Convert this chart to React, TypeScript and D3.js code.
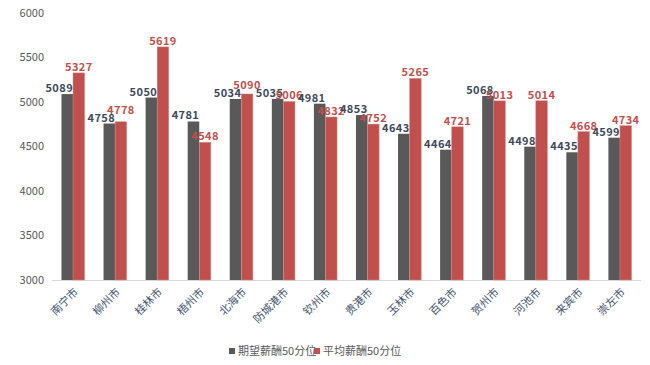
import * as d3 from "d3"

const cities = ["南宁市", "柳州市", "桂林市", "梧州市", "北海市", "防城港市", "钦州市", "贵港市", "玉林市", "百色市", "贺州市", "河池市", "来宾市", "崇左市"]
const expected = [5089, 4758, 5050, 4781, 5034, 5035, 4981, 4853, 4643, 4464, 5068, 4498, 4435, 4599]
const average = [5327, 4778, 5619, 4548, 5090, 5006, 4832, 4752, 5265, 4721, 5013, 5014, 4668, 4734]
const yTicks = [3000, 3500, 4000, 4500, 5000, 5500, 6000]
const seriesNames = ["期望薪酬50分位", "平均薪酬50分位"]

const W = 650
const H = 365
const GRAY = "#595959"
const RED = "#c0504d"
const FONT = "'Noto Sans CJK SC', 'Open Sans', sans-serif"

export default function App() {
  const x = d3.scaleBand<string>().domain(cities).range([52, 641]).paddingInner(0.45).paddingOuter(0.225)
  const y = d3.scaleLinear().domain([3000, 6000]).range([280, 13])
  const bw = x.bandwidth() / 2

  // red label goes above the grey one when the two bars are about the same height
  const redLabelY = (i: number) => {
    const base = y(average[i]) - 2
    if (average[i] >= expected[i] && average[i] - expected[i] < 150) return Math.min(base, y(expected[i]) - 10)
    return base
  }

  return (
    <svg width={W} height={H} style={{ position: "absolute", left: 0, top: 0, background: "#fff" }} fontFamily={FONT}>
      {/* y axis labels */}
      {yTicks.map((t) => (
        <text key={t} x={44} y={y(t)} dy="0.35em" textAnchor="end" fontSize={11} fill={GRAY}>
          {t}
        </text>
      ))}
      <line x1={52} x2={641} y1={280.5} y2={280.5} stroke="#d9d9d9" strokeWidth={1} />

      {cities.map((c, i) => {
        const x0 = x(c)!
        const cx = x0 + x.bandwidth() / 2
        return (
          <g key={c}>
            <rect x={x0} y={y(expected[i])} width={bw} height={280 - y(expected[i])} fill={GRAY} />
            <rect x={x0 + bw} y={y(average[i])} width={bw} height={280 - y(average[i])} fill={RED} stroke="#d88a88" strokeWidth={0.5} />
            <text x={x0 + bw / 2 - 8} y={y(expected[i]) - 2} textAnchor="middle" fontSize={11} fontWeight={600} letterSpacing={0.4} fill="#404a5a">
              {expected[i]}
            </text>
            <text x={x0 + bw * 1.5} y={redLabelY(i)} textAnchor="middle" fontSize={11} fontWeight={600} letterSpacing={0.4} fill={RED}>
              {average[i]}
            </text>
            <text
              transform={`translate(${cx + 3},${290}) rotate(-45)`}
              textAnchor="end"
              dy="0.35em"
              fontSize={11}
              fill="#44546a"
            >
              {c}
            </text>
          </g>
        )
      })}

      {/* legend */}
      <g fontSize={11} fill={GRAY}>
        <rect x={229} y={348} width={6} height={6} fill={GRAY} />
        <text x={238} y={351} dy="0.35em">{seriesNames[0]}</text>
        <rect x={314} y={348} width={6} height={6} fill={RED} />
        <text x={323} y={351} dy="0.35em">{seriesNames[1]}</text>
      </g>
    </svg>
  )
}
